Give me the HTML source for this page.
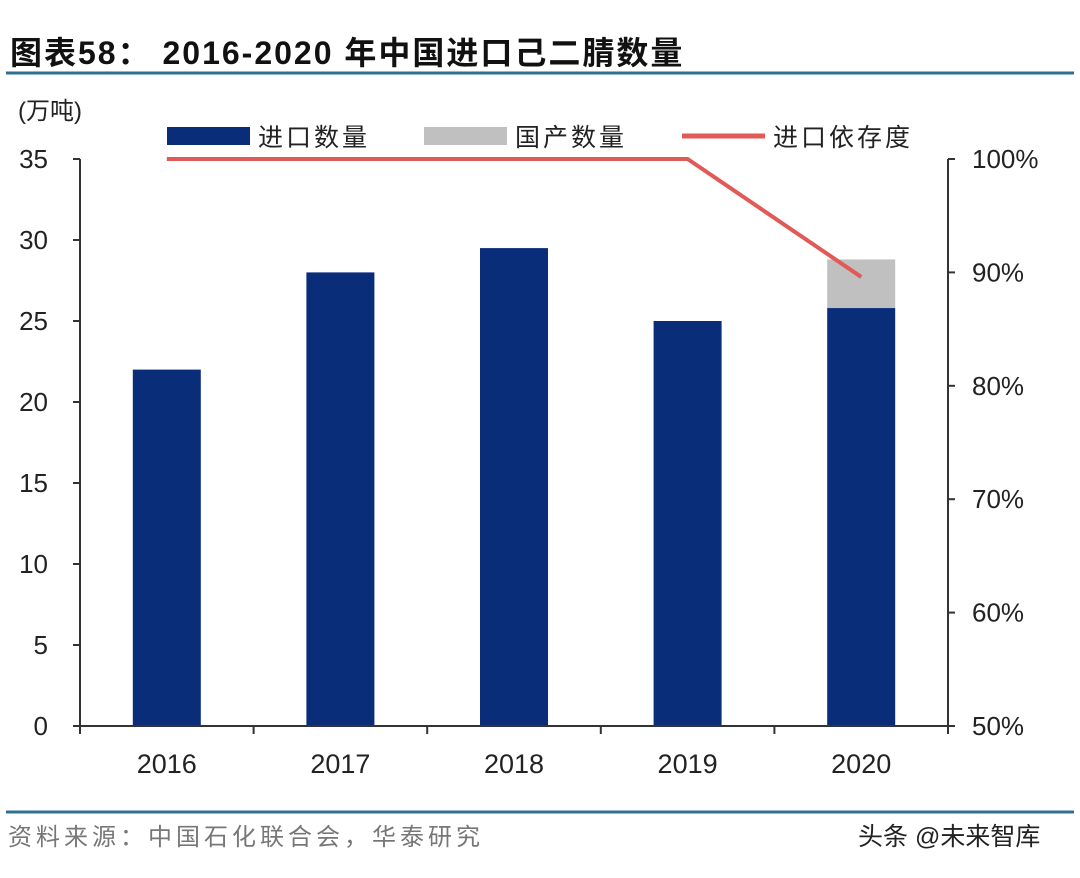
<!DOCTYPE html>
<html><head><meta charset="utf-8"><style>
body{margin:0;background:#fff;width:1080px;height:873px;overflow:hidden;font-family:"Liberation Sans","Noto Sans CJK SC",sans-serif;}
</style></head><body>
<svg id="c" width="1080" height="873" xmlns="http://www.w3.org/2000/svg">
<text x="10" y="64" font-size="32" font-weight="bold" fill="#111" letter-spacing="2" font-family="Liberation Sans,Noto Sans CJK SC,sans-serif">图表58：  2016-2020 年中国进口己二腈数量</text>
<line x1="6" y1="73" x2="1074" y2="73" stroke="#2e6f92" stroke-width="3"/>
<text x="18" y="119" font-size="24" fill="#222">(万吨)</text>
<rect x="167" y="127" width="83" height="18" fill="#0a2d7a"/>
<text x="258" y="146" font-size="25" fill="#222" letter-spacing="3">进口数量</text>
<rect x="424" y="127" width="83" height="18" fill="#c0c0c0"/>
<text x="515" y="146" font-size="25" fill="#222" letter-spacing="3">国产数量</text>
<line x1="682" y1="136" x2="765" y2="136" stroke="#e15a57" stroke-width="5"/>
<text x="773" y="146" font-size="25" fill="#222" letter-spacing="3">进口依存度</text>
<g id="g"></g>
<line x1="6" y1="812" x2="1074" y2="812" stroke="#2e6f92" stroke-width="3"/>
<text x="8" y="845" font-size="24" fill="#777" letter-spacing="4">资料来源：中国石化联合会，华泰研究</text>
<text x="858" y="845" font-size="25" fill="#222">头条 @未来智库</text>
</svg>
<script>
const categories=["2016","2017","2018","2019","2020"];
const importVals=[22,28,29.5,25,25.8];
const domesticVals=[0,0,0,0,3];
const dependency=[100,100,100,100,89.6];
const leftTicks=[0,5,10,15,20,25,30,35];
const rightTicks=[50,60,70,80,90,100];
const X0=80,X1=948,Y0=726,Y1=159;
const bw=(X1-X0)/categories.length;
const yL=v=>Y0-(v/35)*(Y0-Y1);
const yR=v=>Y0-((v-50)/50)*(Y0-Y1);
const xC=i=>X0+bw*(i+0.5);
const g=document.getElementById('g');const NS="http://www.w3.org/2000/svg";
function mk(t,a){const e=document.createElementNS(NS,t);for(const k in a)e.setAttribute(k,a[k]);g.appendChild(e);return e;}
categories.forEach((c,i)=>{
 let e=mk('rect',{x:xC(i)-34,y:yL(importVals[i]),width:68,height:Y0-yL(importVals[i]),fill:'#0a2d7a'});
 
 
 if(domesticVals[i]>0){e=mk('rect',{x:xC(i)-34,y:yL(importVals[i]+domesticVals[i]),width:68,height:yL(importVals[i])-yL(importVals[i]+domesticVals[i]),fill:'#c0c0c0'});
 
 }
 e=mk('text',{x:xC(i),y:773,'font-size':27,'text-anchor':'middle',fill:'#222'});e.textContent=c;
 
 
});
let e=mk('line',{x1:X0,y1:Y0,x2:X1,y2:Y0,stroke:'#333','stroke-width':2});


for(let i=0;i<=categories.length;i++){e=mk('line',{x1:X0+bw*i,y1:Y0,x2:X0+bw*i,y2:Y0+8,stroke:'#333','stroke-width':2});

}
e=mk('line',{x1:X0,y1:Y1,x2:X0,y2:Y0,stroke:'#333','stroke-width':2});


e=mk('line',{x1:X1,y1:Y1,x2:X1,y2:Y0,stroke:'#333','stroke-width':2});


leftTicks.forEach(v=>{e=mk('line',{x1:X0-7,y1:yL(v),x2:X0,y2:yL(v),stroke:'#333','stroke-width':2});


e=mk('text',{x:48,y:yL(v)+9,'font-size':26,'text-anchor':'end',fill:'#222'});e.textContent=v;

});
rightTicks.forEach(v=>{e=mk('line',{x1:X1,y1:yR(v),x2:X1+7,y2:yR(v),stroke:'#333','stroke-width':2});


e=mk('text',{x:972,y:yR(v)+9,'font-size':26,fill:'#222'});e.textContent=v+'%';

});
e=mk('polyline',{points:dependency.map((v,i)=>xC(i)+','+yR(v)).join(' '),fill:'none',stroke:'#e15a57','stroke-width':4});


</script>
</body></html>
